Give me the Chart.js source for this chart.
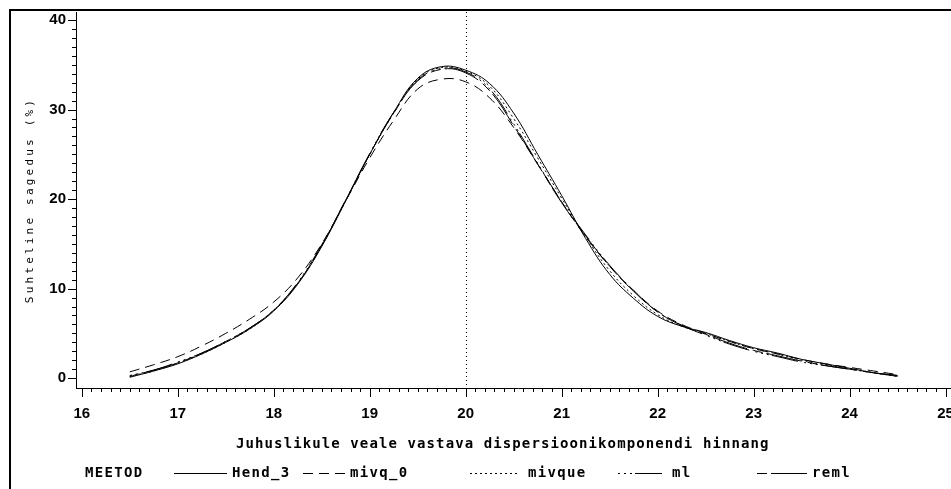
<!DOCTYPE html>
<html>
<head>
<meta charset="utf-8">
<script src="https://cdn.jsdelivr.net/npm/chart.js@4/dist/chart.umd.min.js"></script>
<style>
  html, body { margin: 0; padding: 0; background: #fff; overflow: hidden; }
  #wrap { position: absolute; left: 0; top: 0; width: 1000px; height: 489px; }
</style>
</head>
<body>
<div id="wrap"><canvas id="chart"></canvas></div>
<script>
// Estimates
const xValues = [16.5, 16.75, 17, 17.25, 17.5, 17.75, 18, 18.25, 18.5, 18.75, 19, 19.25, 19.5, 19.75, 20, 20.25, 20.5, 20.75, 21, 21.25, 21.5, 21.75, 22, 22.25, 22.5, 22.75, 23, 23.25, 23.5, 23.75, 24, 24.25, 24.5]

const hend3 = [0.1, 0.8, 1.6, 2.7, 4.0, 5.5, 7.5, 10.5, 14.7, 19.8, 25.0, 29.7, 33.5, 34.8, 34.4, 32.9, 29.6, 25.0, 20.4, 15.6, 11.6, 8.9, 6.9, 5.8, 5.1, 4.2, 3.4, 2.8, 2.1, 1.6, 1.1, 0.6, 0.2]
const mivq0 = [0.7, 1.5, 2.4, 3.6, 5.0, 6.6, 8.5, 11.2, 15.0, 19.8, 24.6, 28.8, 32.3, 33.4, 33.1, 31.3, 28.0, 23.9, 19.7, 15.8, 12.5, 9.8, 7.5, 6.0, 5.0, 4.1, 3.3, 2.7, 2.1, 1.6, 1.2, 0.8, 0.4]
const mivque = [0.2, 0.8, 1.7, 2.7, 4.0, 5.5, 7.6, 10.6, 14.8, 19.8, 25.0, 29.6, 33.4, 34.7, 34.3, 32.6, 29.0, 24.6, 20.1, 15.8, 12.0, 9.2, 7.1, 5.8, 5.0, 4.1, 3.3, 2.7, 2.0, 1.5, 1.1, 0.6, 0.2]
const ml = [0.3, 0.9, 1.8, 2.8, 4.1, 5.6, 7.6, 10.7, 14.9, 19.9, 25.1, 29.7, 33.3, 34.6, 34.2, 32.3, 28.4, 24.0, 19.7, 16.0, 12.6, 9.8, 7.4, 5.9, 4.8, 3.8, 3.0, 2.4, 1.8, 1.4, 1.0, 0.6, 0.3]
const reml = [0.2, 0.9, 1.7, 2.8, 4.1, 5.6, 7.6, 10.6, 14.8, 19.9, 25.0, 29.6, 33.2, 34.5, 34.1, 32.1, 28.2, 23.9, 19.6, 15.9, 12.5, 9.7, 7.4, 5.9, 4.9, 3.9, 3.1, 2.5, 1.9, 1.4, 1.0, 0.6, 0.3]

const seriesNames = ['Hend_3', 'mivq_0', 'mivque', 'ml', 'reml']
const seriesValues = [hend3, mivq0, mivque, ml, reml]

const xTicks = [16, 17, 18, 19, 20, 21, 22, 23, 24, 25]
const yTicks = [0, 10, 20, 30, 40]
const refX = 20

const legendTitle = 'MEETOD'
const xTitle = 'Juhuslikule veale vastava dispersioonikomponendi hinnang'
const yTitle = 'Suhteline sagedus (%)'

const dashes = [[], [10, 6], [2, 3], [2, 4, 2, 4, 2, 3, 27, 6], [10, 4, 36, 6]]
const mono = '"DejaVu Sans Mono", "Liberation Mono", monospace'
const sans = '"Liberation Sans", Arial, sans-serif'

const datasets = seriesNames.map((name, i) => ({
  label: name,
  data: xValues.map((x, j) => ({ x, y: seriesValues[i][j] })),
  borderColor: '#000',
  borderWidth: 1,
  borderDash: dashes[i],
  pointRadius: 0,
  tension: 0.4,
  fill: false
}))

// SAS-like frame, minor ticks, titles and legend
const sasDecor = {
  id: 'sasDecor',
  beforeDraw (chart) {
    const ctx = chart.ctx
    ctx.save()
    ctx.fillStyle = '#fff'
    ctx.fillRect(0, 0, chart.width, chart.height)
    ctx.fillStyle = '#000'
    ctx.fillRect(9, 9, 2, chart.height)
    ctx.fillRect(9, 9, chart.width, 2)
    ctx.restore()
  },
  afterDatasetsDraw (chart) {
    const { ctx, chartArea, scales } = chart
    const x = scales.x
    const y = scales.y
    ctx.save()
    ctx.strokeStyle = '#000'
    ctx.lineWidth = 1

    // reference line
    const rx = Math.round(x.getPixelForValue(refX)) + 0.5
    ctx.setLineDash([1, 3])
    ctx.beginPath()
    ctx.moveTo(rx, chartArea.top)
    ctx.lineTo(rx, chartArea.bottom)
    ctx.stroke()
    ctx.setLineDash([])

    // x ticks, every 0.1
    const x0 = xTicks[0]
    const x1 = xTicks[xTicks.length - 1]
    for (let k = 0; k <= (x1 - x0) * 10; k++) {
      const px = Math.round(x.getPixelForValue(x0 + k / 10)) + 0.5
      const len = k % 10 === 0 ? 9 : 4
      ctx.beginPath()
      ctx.moveTo(px, chartArea.bottom)
      ctx.lineTo(px, chartArea.bottom + len)
      ctx.stroke()
    }

    // y ticks, every 1
    const y0 = yTicks[0]
    const y1 = yTicks[yTicks.length - 1]
    for (let v = y0; v <= y1; v++) {
      const py = Math.round(y.getPixelForValue(v)) + 0.5
      const len = v % 10 === 0 ? 8 : 4
      ctx.beginPath()
      ctx.moveTo(chartArea.left, py)
      ctx.lineTo(chartArea.left - len, py)
      ctx.stroke()
    }

    ctx.fillStyle = '#000'
    ctx.textBaseline = 'middle'

    // y title
    ctx.save()
    ctx.translate(30, 200)
    ctx.rotate(-Math.PI / 2)
    ctx.font = '11px ' + mono
    ctx.letterSpacing = '3.2px'
    ctx.textAlign = 'center'
    ctx.fillText(yTitle, 0, 0)
    ctx.restore()

    // x title
    ctx.font = 'bold 14px ' + mono
    ctx.letterSpacing = '1.1px'
    ctx.textAlign = 'left'
    ctx.fillText(xTitle, 236, 444)

    // legend
    const ly = 473
    ctx.letterSpacing = '1.3px'
    ctx.fillText(legendTitle, 85, ly)
    const spots = [[174, 227, 232], [303, 345, 350], [470, 518, 528], [618, 667, 672], [757, 807, 812]]
    chart.data.datasets.forEach((ds, i) => {
      const [a, b, t] = spots[i]
      ctx.setLineDash(ds.borderDash)
      ctx.beginPath()
      ctx.moveTo(a, ly + 0.5)
      ctx.lineTo(b, ly + 0.5)
      ctx.stroke()
      ctx.setLineDash([])
      ctx.fillText(ds.label, t, ly)
    })
    ctx.restore()
  }
}

new Chart(document.getElementById('chart'), {
  type: 'line',
  data: { datasets },
  plugins: [sasDecor],
  options: {
    responsive: true,
    maintainAspectRatio: false,
    animation: false,
    events: [],
    layout: { padding: { top: 12, right: 40, bottom: 0, left: 0 } },
    plugins: {
      legend: { display: false },
      tooltip: { enabled: false }
    },
    scales: {
      x: {
        type: 'linear',
        min: 15.94,
        max: 25.15,
        afterBuildTicks: (scale) => { scale.ticks = xTicks.map(v => ({ value: v })) },
        afterFit: (scale) => {
          scale.height = 101
          scale.paddingLeft = 0
          scale.paddingRight = 0
        },
        grid: { display: false, drawTicks: false },
        border: { color: '#000', width: 1 },
        ticks: {
          autoSkip: false,
          maxRotation: 0,
          padding: 17,
          color: '#000',
          font: { family: sans, size: 15, weight: 'bold' },
          callback: (v) => String(v)
        }
      },
      y: {
        min: -1.1,
        max: 40.9,
        afterBuildTicks: (scale) => { scale.ticks = yTicks.map(v => ({ value: v })) },
        afterFit: (scale) => {
          scale.width = 76
          scale.paddingTop = 0
          scale.paddingBottom = 0
        },
        grid: { display: false, drawTicks: false },
        border: { color: '#000', width: 1 },
        ticks: {
          padding: 10,
          color: '#000',
          font: { family: sans, size: 15, weight: 'bold' },
          callback: (v) => String(v)
        }
      }
    }
  }
})
</script>
</body>
</html>
